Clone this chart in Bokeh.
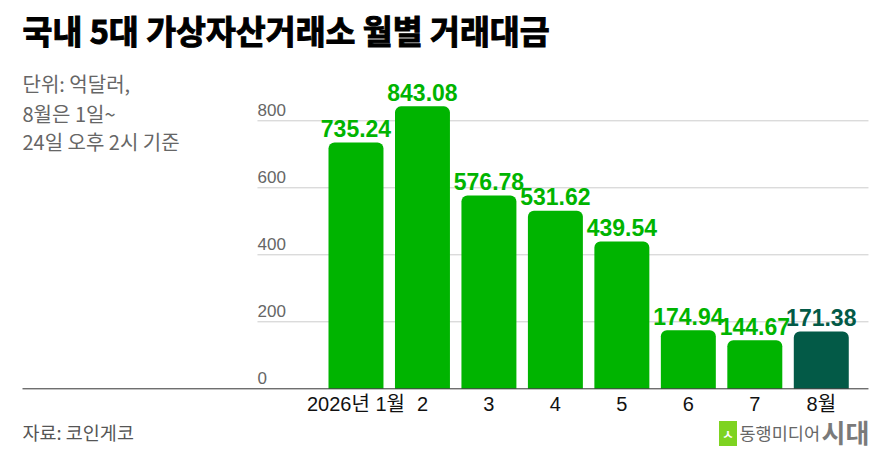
from bokeh.plotting import figure
from bokeh.models import Range1d, Label, ColumnDataSource
from bokeh.embed import file_html
from bokeh.resources import INLINE
from bokeh.core.properties import value

# ---- data ----
months = ["2026년 1월", "2", "3", "4", "5", "6", "7", "8월"]
volumes = [735.24, 843.08, 576.78, 531.62, 439.54, 174.94, 144.67, 171.38]
highlight = [False, False, False, False, False, False, False, True]
y_ticks = [0, 200, 400, 600, 800]
y_tick_labels = ["0", "200", "400", "600", "800"]

title_text = "국내 5대 가상자산거래소 월별 거래대금"
subtitle_lines = ["단위: 억달러,", "8월은 1일~", "24일 오후 2시 기준"]
source_text = "자료: 코인게코"
brand_small = "동행미디어"
brand_big = "시대"

# ---- styles ----
GREEN = "#00b400"
DARK = "#035a47"
KR = "'Noto Sans CJK KR'"
LAT = "'Liberation Sans', 'Noto Sans CJK KR'"

xs = list(range(len(months)))
bar_colors = [DARK if h else GREEN for h in highlight]
label_texts = [f"{v:.2f}" for v in volumes]
src = ColumnDataSource(dict(x=xs, top=volumes, color=bar_colors, label=label_texts))

W, H = 882, 453
X0, X1 = -5.348, 7.921
Y0, Y1 = -193.1, 1159.1
p = figure(width=W, height=H, output_backend="svg", toolbar_location=None,
           x_range=Range1d(X0, X1), y_range=Range1d(Y0, Y1),
           x_axis_location=None, y_axis_location=None,
           min_border=0, min_border_left=0, min_border_right=0,
           min_border_top=0, min_border_bottom=0)
p.outline_line_color = None
p.background_fill_color = "white"
p.border_fill_color = "white"
p.xgrid.visible = False
p.ygrid.visible = False

AXIS_X0, AXIS_X1 = -5.017, 7.710
GRID_X0 = -1.482

# gridlines
gy = [t for t in y_ticks if t > 0]
p.segment(x0=[GRID_X0] * len(gy), y0=gy, x1=[AXIS_X1] * len(gy), y1=gy,
          line_color="#cccccc", line_width=1)

# y tick labels
p.text(x=[GRID_X0] * len(y_ticks), y=y_ticks, text=y_tick_labels,
       text_font=value("Liberation Sans"), text_font_size="17px",
       text_color="#666666", text_align="left", text_baseline="middle",
       y_offset=-11)

# bars
p.vbar(x="x", top="top", width=0.827, bottom=0, source=src,
       fill_color="color", line_color=None, border_radius=(6, 6, 0, 0))

# value labels
p.text(x="x", y="top", text="label", source=src,
       text_font=value("Liberation Sans"), text_font_style="bold",
       text_font_size="23px", text_color="color", text_align="center",
       text_baseline="middle", y_offset=-14)

# baseline (x axis line)
p.segment(x0=[AXIS_X0], y0=[0], x1=[AXIS_X1], y1=[0], line_color="#333333", line_width=1)

# x category labels
p.text(x=xs, y=[0] * len(xs), text=months, text_font=value(LAT),
       text_font_size="20px", text_color="#111111", text_align="center",
       text_baseline="middle", y_offset=15)

# title / notes
p.add_layout(Label(x=22, y=424, x_units="screen", y_units="screen", text=title_text,
                   text_font=KR, text_font_style="bold", text_font_size="32.5px",
                   text_color="#000000", text_outline_color="#000000",
                   text_baseline="middle", text_align="left"))
for txt, yy in zip(subtitle_lines, [370, 340.5, 312.5]):
    p.add_layout(Label(x=22, y=yy, x_units="screen", y_units="screen", text=txt,
                       text_font=KR, text_font_size="20px", text_color="#666666",
                       text_baseline="middle", text_align="left"))
p.add_layout(Label(x=22, y=21.5, x_units="screen", y_units="screen", text=source_text,
                   text_font=KR, text_font_size="18.5px", text_color="#555555",
                   text_baseline="middle", text_align="left"))

# brand
p.add_layout(Label(x=727.5, y=20, x_units="screen", y_units="screen", text="ㅅ",
                   text_font=KR, text_font_style="bold", text_font_size="13px",
                   text_color="white", text_baseline="middle", text_align="center",
                   background_fill_color="#7ed321", padding=3))
p.add_layout(Label(x=739, y=21, x_units="screen", y_units="screen", text=brand_small,
                   text_font=KR, text_font_size="17.5px", text_color="#666666",
                   text_baseline="middle", text_align="left"))
p.add_layout(Label(x=821, y=22, x_units="screen", y_units="screen", text=brand_big,
                   text_font=KR, text_font_style="bold", text_font_size="26px",
                   text_color="#7a7a7a", text_baseline="middle", text_align="left"))

open("out.html", "w").write(file_html(p, INLINE))
